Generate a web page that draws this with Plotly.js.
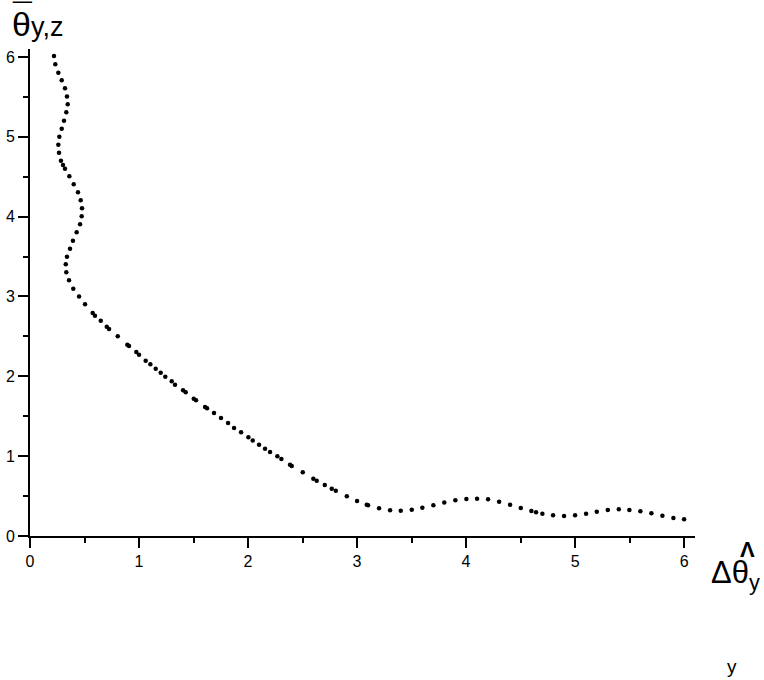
<!DOCTYPE html>
<html>
<head>
<meta charset="utf-8">
<script src="https://cdn.plot.ly/plotly-3.0.1.min.js"></script>
<style>
  body { margin: 0; background: #fff; }
  #graph { width: 764px; height: 680px; }
</style>
</head>
<body>
<div id="graph"></div>
<script>
// puntos (x = delta theta hat, y = theta bar)
const xVals = [
  0.220, 0.232, 0.260, 0.291, 0.321, 0.339, 0.346, 0.333, 0.312, 0.291,
  0.269, 0.260, 0.266, 0.284, 0.303, 0.321, 0.361, 0.401, 0.440, 0.465,
  0.477, 0.474, 0.459, 0.428, 0.394, 0.367, 0.339, 0.328, 0.333, 0.358,
  0.397, 0.450, 0.505, 0.575, 0.596, 0.649, 0.704, 0.725, 0.805, 0.893,
  0.908, 0.975, 1.000, 1.061, 1.104, 1.153, 1.199, 1.241, 1.300, 1.330,
  1.404, 1.428, 1.502, 1.523, 1.606, 1.624, 1.688, 1.752, 1.817, 1.872,
  1.936, 2.003, 2.043, 2.101, 2.156, 2.202, 2.269, 2.306, 2.385, 2.401,
  2.502, 2.599, 2.630, 2.704, 2.768, 2.805, 2.906, 3.000, 3.089, 3.101,
  3.202, 3.303, 3.401, 3.502, 3.599, 3.700, 3.800, 3.902, 4.003, 4.101,
  4.202, 4.303, 4.404, 4.502, 4.599, 4.642, 4.700, 4.798, 4.899, 5.000,
  5.101, 5.199, 5.300, 5.401, 5.498, 5.599, 5.700, 5.801, 5.902, 6.000
];
const yVals = [
  6.013, 5.909, 5.804, 5.709, 5.609, 5.504, 5.408, 5.308, 5.202, 5.102,
  5.002, 4.902, 4.801, 4.701, 4.647, 4.601, 4.506, 4.406, 4.306, 4.205,
  4.105, 4.005, 3.905, 3.804, 3.699, 3.599, 3.499, 3.404, 3.303, 3.203,
  3.098, 3.000, 2.904, 2.793, 2.760, 2.697, 2.622, 2.593, 2.502, 2.396,
  2.380, 2.305, 2.271, 2.196, 2.151, 2.096, 2.046, 1.996, 1.938, 1.895,
  1.825, 1.800, 1.720, 1.700, 1.616, 1.600, 1.541, 1.478, 1.416, 1.353,
  1.299, 1.236, 1.196, 1.144, 1.094, 1.052, 0.998, 0.965, 0.893, 0.877,
  0.798, 0.718, 0.693, 0.639, 0.593, 0.567, 0.497, 0.438, 0.392, 0.385,
  0.347, 0.323, 0.317, 0.329, 0.355, 0.386, 0.420, 0.447, 0.463, 0.467,
  0.460, 0.430, 0.392, 0.351, 0.313, 0.297, 0.279, 0.259, 0.251, 0.259,
  0.279, 0.304, 0.326, 0.334, 0.326, 0.309, 0.284, 0.254, 0.225, 0.209
];

const W = 764, H = 680;
const M = {l: 30, r: 69, t: 49, b: 144};
const FONT = 'Liberation Sans, Arial, sans-serif';

// pasa pixeles de la pagina a coordenadas paper
function ann(text, px, py, size, xanchor) {
  return {
    text: text,
    xref: 'paper', yref: 'paper',
    x: (px - M.l) / (W - M.l - M.r),
    y: (H - M.b - py) / (H - M.t - M.b),
    xanchor: xanchor || 'left', yanchor: 'middle',
    showarrow: false,
    font: {family: FONT, size: size, color: '#000'}
  };
}

const axisBase = {
  showline: true, linecolor: '#000', linewidth: 2,
  ticks: 'outside', ticklen: 10, tickwidth: 2, tickcolor: '#000',
  tick0: 0, dtick: 1,
  showgrid: false, zeroline: false,
  tickfont: {family: FONT, size: 16, color: '#000'},
  minor: {dtick: 0.5, ticks: 'outside', ticklen: 5, tickwidth: 2, tickcolor: '#000', showgrid: false},
  fixedrange: true
};

const layout = {
  width: W, height: H,
  margin: M,
  paper_bgcolor: '#fff', plot_bgcolor: '#fff',
  showlegend: false,
  xaxis: Object.assign({}, axisBase, {range: [0, 6.1]}),
  yaxis: Object.assign({}, axisBase, {range: [0, 6.1]}),
  annotations: [
    ann('¯', 10, 15, 34),
    ann("θ<span style='font-size:27px'>y,z</span>", 10, 24, 34),
    ann('<b>Λ</b>', 747, 549, 22, 'center'),
    ann('Δθ<sub>y</sub>', 709, 575, 31),
    ann('y', 732, 666, 19, 'center')
  ]
};

Plotly.newPlot('graph', [{
  type: 'scatter',
  mode: 'markers',
  x: xVals,
  y: yVals,
  marker: {color: '#000', size: 4.5},
  cliponaxis: false,
  hoverinfo: 'none'
}], layout, {staticPlot: true});
</script>
</body>
</html>
